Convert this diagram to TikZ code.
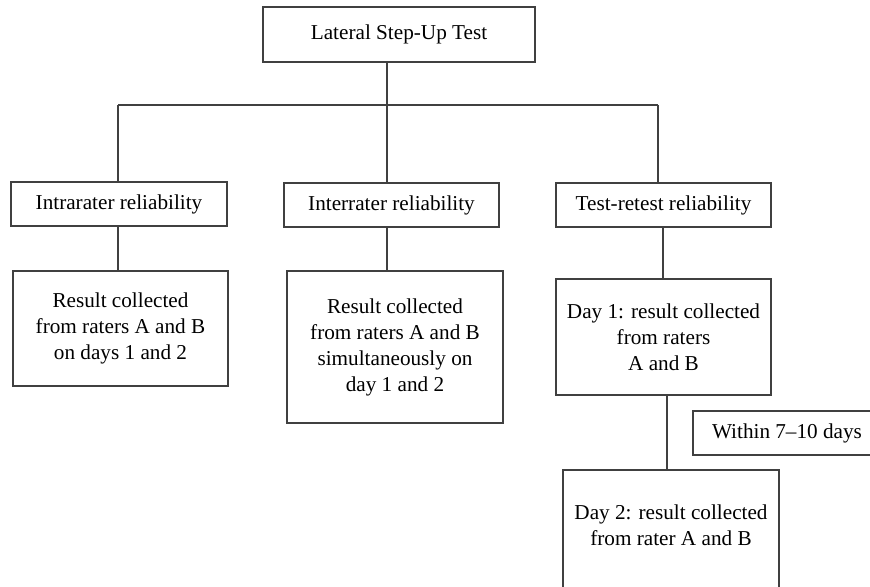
\documentclass[tikz,border=0pt]{standalone}
\usepackage{fontspec}
\setmainfont{Liberation Serif}
\usepackage{tikz}

\begin{document}
\begin{tikzpicture}[x=0.5pt,y=-0.5pt,
    box/.style={draw=black!75, line width=0.75pt, fill=white, inner sep=0pt, align=center,
                font=\fontsize{10.6}{13}\selectfont},
    link/.style={draw=black!75, line width=0.75pt}]

    \useasboundingbox (0,0) rectangle (870,586);

    \node[box, minimum width=136pt, minimum height=27.5pt] (top) at (399,34.5) {Lateral Step-Up Test};

    \node[box, minimum width=108pt, minimum height=22pt] (intra) at (119,204) {Intrarater reliability};
    \node[box, minimum width=107.5pt, minimum height=22pt] (inter) at (391.5,205) {Interrater reliability};
    \node[box, minimum width=107.5pt, minimum height=22pt] (retest) at (663.5,205) {Test-retest reliability};

    \node[box, minimum width=107.5pt, minimum height=57.5pt] (res1) at (120.5,328.5)
        {Result collected\\from raters A and B\\on days 1 and 2};
    \node[box, minimum width=108pt, minimum height=76pt] (res2) at (395,347)
        {Result collected\\from raters A and B\\simultaneously on\\day 1 and 2};
    \node[box, minimum width=107.5pt, minimum height=58pt] (day1) at (663.5,337)
        {Day 1: result collected\\from raters\\A and B};
    \node[box, minimum width=108pt, minimum height=65pt, text depth=10pt] (day2) at (671,535)
        {Day 2: result collected\\from rater A and B};
    \node[box, minimum width=94pt, minimum height=22pt] (within) at (787,433) {Within 7--10 days};

    \coordinate (b1) at (118,105);
    \coordinate (b2) at (387,105);
    \coordinate (b3) at (658,105);
    \coordinate (c) at (663,0);
    \coordinate (d) at (667,0);

    \draw[link] (top.south -| b2) -- (b2);
    \draw[link] (b1) -- (b3);
    \draw[link] (b1) -- (intra.north -| b1);
    \draw[link] (b2) -- (inter.north -| b2);
    \draw[link] (b3) -- (retest.north -| b3);

    \draw[link] (intra.south -| b1) -- (res1.north -| b1);
    \draw[link] (inter.south -| b2) -- (res2.north -| b2);
    \draw[link] (retest.south -| c) -- (day1.north -| c);
    \draw[link] (day1.south -| d) -- (day2.north -| d);

\end{tikzpicture}
\end{document}
